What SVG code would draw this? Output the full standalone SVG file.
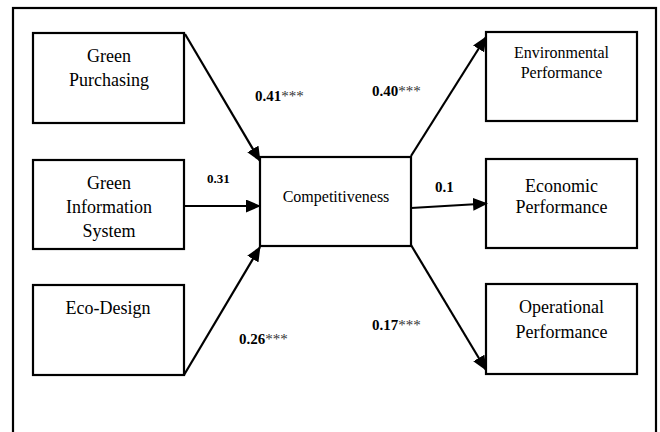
<svg xmlns="http://www.w3.org/2000/svg" width="660" height="432" viewBox="0 0 660 432">
<style>
.box{fill:#fff;stroke:#000;stroke-width:2.2}
.t{font-family:"Liberation Serif","Times New Roman",serif;fill:#000;text-anchor:middle}
.t18{font-size:18px}
.t16{font-size:16px}
.lbl{font-family:"Liberation Serif","Times New Roman",serif;font-weight:bold;font-size:15px;fill:#000}
.ast{font-weight:normal;fill:#333}
.arr{stroke:#000;stroke-width:2.2;fill:none;marker-end:url(#ah)}
</style>
<defs>
<marker id="ah" markerUnits="userSpaceOnUse" markerWidth="16" markerHeight="14" refX="14" refY="6.5" orient="auto">
<path d="M0,0 L15,6.5 L0,13 z" fill="#000"/>
</marker>
</defs>
<rect x="0" y="0" width="660" height="432" fill="#fff"/>
<rect id="frame" x="13" y="8" width="643" height="440" fill="none" stroke="#000" stroke-width="2.2"/>

<g id="green-purchasing">
<rect class="box" x="33" y="33" width="151" height="90"/>
<text class="t t18" x="109" y="62">Green</text>
<text class="t t18" x="109" y="86">Purchasing</text>
</g>
<g id="green-information-system">
<rect class="box" x="33" y="160" width="151" height="89"/>
<text class="t t18" x="109" y="189">Green</text>
<text class="t t18" x="109" y="213">Information</text>
<text class="t t18" x="109" y="237">System</text>
</g>
<g id="eco-design">
<rect class="box" x="33" y="285" width="151" height="90"/>
<text class="t t18" x="108" y="314">Eco-Design</text>
</g>
<g id="competitiveness">
<rect class="box" x="260" y="157" width="151" height="89"/>
<text class="t t16" x="336" y="202">Competitiveness</text>
</g>
<g id="environmental-performance">
<rect class="box" x="486" y="32" width="151" height="89"/>
<text class="t t16" x="561.5" y="58">Environmental</text>
<text class="t t16" x="561.5" y="78">Performance</text>
</g>
<g id="economic-performance">
<rect class="box" x="486" y="159" width="151" height="89"/>
<text class="t t18" x="561.5" y="192">Economic</text>
<text class="t t18" x="561.5" y="213">Performance</text>
</g>
<g id="operational-performance">
<rect class="box" x="486" y="284" width="151" height="90"/>
<text class="t t18" x="561.5" y="313">Operational</text>
<text class="t t18" x="561.5" y="338">Performance</text>
</g>

<g id="connectors">
<line class="arr" x1="185" y1="34" x2="260" y2="161"/>
<line class="arr" x1="184" y1="206" x2="260" y2="206"/>
<line class="arr" x1="184" y1="375" x2="260" y2="247"/>
<line class="arr" x1="411" y1="156" x2="486" y2="37"/>
<line class="arr" x1="411" y1="208" x2="487" y2="203.5"/>
<line class="arr" x1="411" y1="245" x2="486" y2="370"/>
</g>

<g id="labels">
<text class="lbl" x="255" y="101">0.41<tspan class="ast">***</tspan></text>
<text class="lbl" x="207" y="183" style="font-size:13px">0.31</text>
<text class="lbl" x="239" y="344">0.26<tspan class="ast">***</tspan></text>
<text class="lbl" x="372" y="96">0.40<tspan class="ast">***</tspan></text>
<text class="lbl" x="435" y="192">0.1</text>
<text class="lbl" x="372" y="330">0.17<tspan class="ast">***</tspan></text>
</g>
</svg>
